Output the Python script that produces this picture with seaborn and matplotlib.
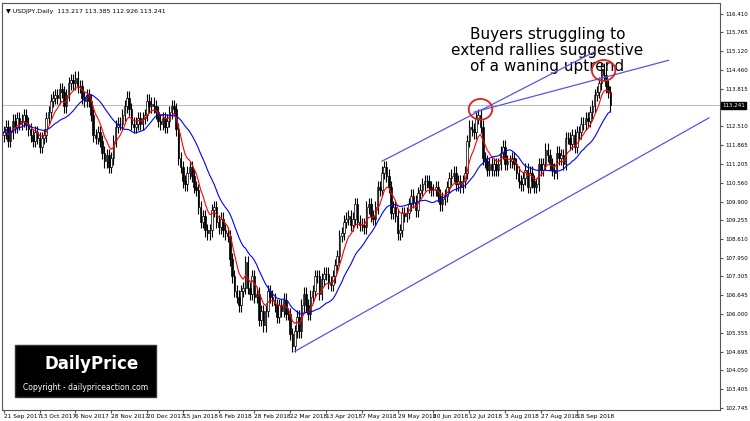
import numpy as np
import pandas as pd
import matplotlib
matplotlib.use("Agg")
import matplotlib.pyplot as plt
from matplotlib.patches import Ellipse, Rectangle
import seaborn as sns

# Daily closes, USDJPY, from 21 Sep 2017 (16 bars per tick label)
closes = [
    112.3, 112.5, 112.0, 112.3, 112.7, 112.5, 112.8, 112.6, 112.7, 112.9, 112.6, 112.4, 112.2, 112.0, 112.3, 112.1,
    111.8, 112.1, 112.2, 112.8, 113.0, 113.4, 113.5, 113.6, 113.5, 113.8, 113.7, 113.2, 113.6, 114.0, 114.1, 114.0,
    114.2, 113.9, 113.9, 113.5, 113.4, 113.6, 113.4, 112.9, 112.2, 112.1, 112.3, 112.0, 111.6, 111.3, 111.5, 111.1,
    111.4, 112.0, 112.5, 112.6, 112.6, 112.9, 113.2, 113.5, 113.1, 112.6, 112.5, 112.6, 112.8, 112.6, 112.8, 112.9,
    113.4, 113.2, 113.3, 113.2, 113.0, 112.7, 112.6, 112.8, 112.5, 112.7, 113.0, 113.2, 113.1, 112.4, 111.4, 111.1,
    110.6, 110.5, 110.9, 111.1, 110.8, 110.4, 110.3, 109.7, 109.2, 109.4, 108.9, 108.8, 108.9, 109.6, 109.7, 109.2,
    109.0, 109.3, 108.9, 108.8, 108.7, 107.9, 107.3, 106.8, 106.6, 106.3, 106.8, 106.9, 107.8, 106.9, 106.7, 107.3,
    106.6, 106.7, 105.8, 106.1, 105.6, 106.1, 106.8, 106.6, 106.5, 106.3, 105.9, 106.3, 106.1, 106.5, 106.0, 106.0,
    105.3, 104.9, 105.4, 105.9, 105.4, 106.3, 106.7, 106.3, 106.0, 106.6, 106.8, 107.3, 107.3, 106.7, 107.2, 107.4,
    107.4, 107.1, 107.0, 107.3, 107.7, 108.0, 108.7, 108.8, 109.2, 109.3, 109.4, 109.1, 109.3, 109.8, 109.2, 109.1,
    109.1, 109.0, 109.7, 109.8, 109.4, 109.3, 109.7, 110.4, 110.3, 110.9, 111.1, 110.8, 110.4, 109.5, 109.7, 109.4,
    108.8, 108.9, 109.5, 109.4, 109.5, 109.8, 110.1, 109.9, 109.6, 110.2, 110.3, 110.5, 110.6, 110.6, 110.4, 110.3,
    110.3, 110.4, 110.1, 109.8, 110.0, 110.1, 110.4, 110.7, 110.8, 110.9, 110.5, 110.6, 110.4, 110.6, 110.9, 112.0,
    112.5, 112.4, 112.3, 112.8, 112.9, 112.5, 111.4, 111.3, 111.0, 111.2, 111.0, 111.2, 111.0, 111.2, 111.6, 111.8,
    111.2, 111.3, 111.3, 111.4, 111.2, 110.9, 110.6, 110.5, 110.7, 111.0, 110.4, 110.9, 110.6, 110.4, 110.5, 111.2,
    111.0, 111.2, 111.7, 111.5, 111.2, 111.0, 110.9, 111.6, 111.4, 111.5, 111.2, 112.1, 112.1, 111.9, 112.2, 111.8,
    112.3, 112.3, 112.6, 112.6, 112.8, 112.7, 113.0, 113.2, 113.6, 113.7, 114.0, 114.5, 114.3, 113.9, 113.7, 113.241,
]
first_open = 112.2
wick = 0.22
last_price = 113.241

tick_labels = ["21 Sep 2017", "13 Oct 2017", "6 Nov 2017", "28 Nov 2017", "20 Dec 2017",
               "15 Jan 2018", "6 Feb 2018", "28 Feb 2018", "22 Mar 2018", "13 Apr 2018",
               "7 May 2018", "29 May 2018", "20 Jun 2018", "12 Jul 2018", "3 Aug 2018",
               "27 Aug 2018", "18 Sep 2018"]
price_ticks = [116.410, 115.765, 115.120, 114.460, 113.815, 112.510, 111.865, 111.205,
               110.560, 109.900, 109.255, 108.610, 107.950, 107.305, 106.645, 106.000,
               105.355, 104.695, 104.050, 103.405, 102.745]

# trendlines as (bar, price) anchors
lower_line = ([130, 315], [104.7, 112.8])
upper_line = ([169, 264], [111.3, 115.1])
top_line = ([210, 297], [113.0, 114.8])
circles = [(213, 113.1), (268, 114.45)]

df = pd.DataFrame({"close": closes})
df["bar"] = np.arange(len(df))
df["open"] = df["close"].shift(1).fillna(first_open)
df["high"] = df[["open", "close"]].max(axis=1) + wick
df["low"] = df[["open", "close"]].min(axis=1) - wick
df["ema_fast"] = df["close"].ewm(span=8).mean()
df["ema_slow"] = df["close"].rolling(20, min_periods=1).mean()

fig = plt.figure(figsize=(7.5, 4.21), dpi=100)
ax = fig.add_axes([0.002, 0.027, 0.958, 0.966])

up = df["close"] >= df["open"]
ax.vlines(df["bar"], df["low"], df["high"], color="black", lw=0.8, zorder=2)
ax.bar(df["bar"][up], (df["close"] - df["open"])[up], bottom=df["open"][up], width=0.7,
       color="white", edgecolor="black", lw=0.5, zorder=3)
ax.bar(df["bar"][~up], (df["open"] - df["close"])[~up], bottom=df["close"][~up], width=0.7,
       color="black", edgecolor="black", lw=0.5, zorder=3)

sns.lineplot(data=df, x="bar", y="ema_fast", color="red", lw=0.8, ax=ax, zorder=4)
sns.lineplot(data=df, x="bar", y="ema_slow", color="blue", lw=0.8, ax=ax, zorder=4)

for xs, ys in (lower_line, upper_line, top_line):
    ax.plot(xs, ys, color="#5555ee", lw=0.9, zorder=5)
for cx, cy in circles:
    ax.add_patch(Ellipse((cx, cy), 10.5, 0.72, fill=False, ec="#e02020", lw=1.3, zorder=6))

ax.axhline(last_price, color="#bbbbbb", lw=0.7, zorder=1)

ax.set_xlim(-1, 320)
ax.set_ylim(102.68, 116.79)
ax.set_xticks(np.arange(0, 16 * len(tick_labels), 16))
ax.set_xticklabels(tick_labels, fontsize=4.2, ha="left")
ax.yaxis.tick_right()
ax.set_yticks(price_ticks)
ax.set_yticklabels([f"{p:.3f}" for p in price_ticks], fontsize=4.0)
ax.tick_params(length=2, pad=1.5, color="#555555")
ax.set_xlabel("")
ax.set_ylabel("")
for s in ax.spines.values():
    s.set_color("#555555")
    s.set_linewidth(0.8)

ax.text(1.003, last_price, f"{last_price:.3f}", transform=ax.get_yaxis_transform(),
        fontsize=4.0, color="white", va="center", ha="left",
        bbox=dict(boxstyle="square,pad=0.15", fc="black", ec="black"))

ax.text(0.006, 0.985, "\u25bc USDJPY,Daily  113.217 113.385 112.926 113.241",
        transform=ax.transAxes, fontsize=4.5, va="top")
ax.text(0.76, 0.94, "Buyers struggling to\nextend rallies suggestive\nof a waning uptrend",
        transform=ax.transAxes, fontsize=11, ha="center", va="top", linespacing=1.05)

# logo box
ax.add_patch(Rectangle((0.019, 0.03), 0.196, 0.128, transform=ax.transAxes,
                       fc="black", ec="#333333", zorder=7))
ax.text(0.125, 0.112, "DailyPrice", transform=ax.transAxes, fontsize=12, fontweight="bold",
        color="white", ha="center", va="center", zorder=8)
ax.text(0.117, 0.055, "Copyright - dailypriceaction.com", transform=ax.transAxes, fontsize=5.5,
        color="white", ha="center", va="center", zorder=8)

fig.savefig("out.png", dpi=100, facecolor="white")
